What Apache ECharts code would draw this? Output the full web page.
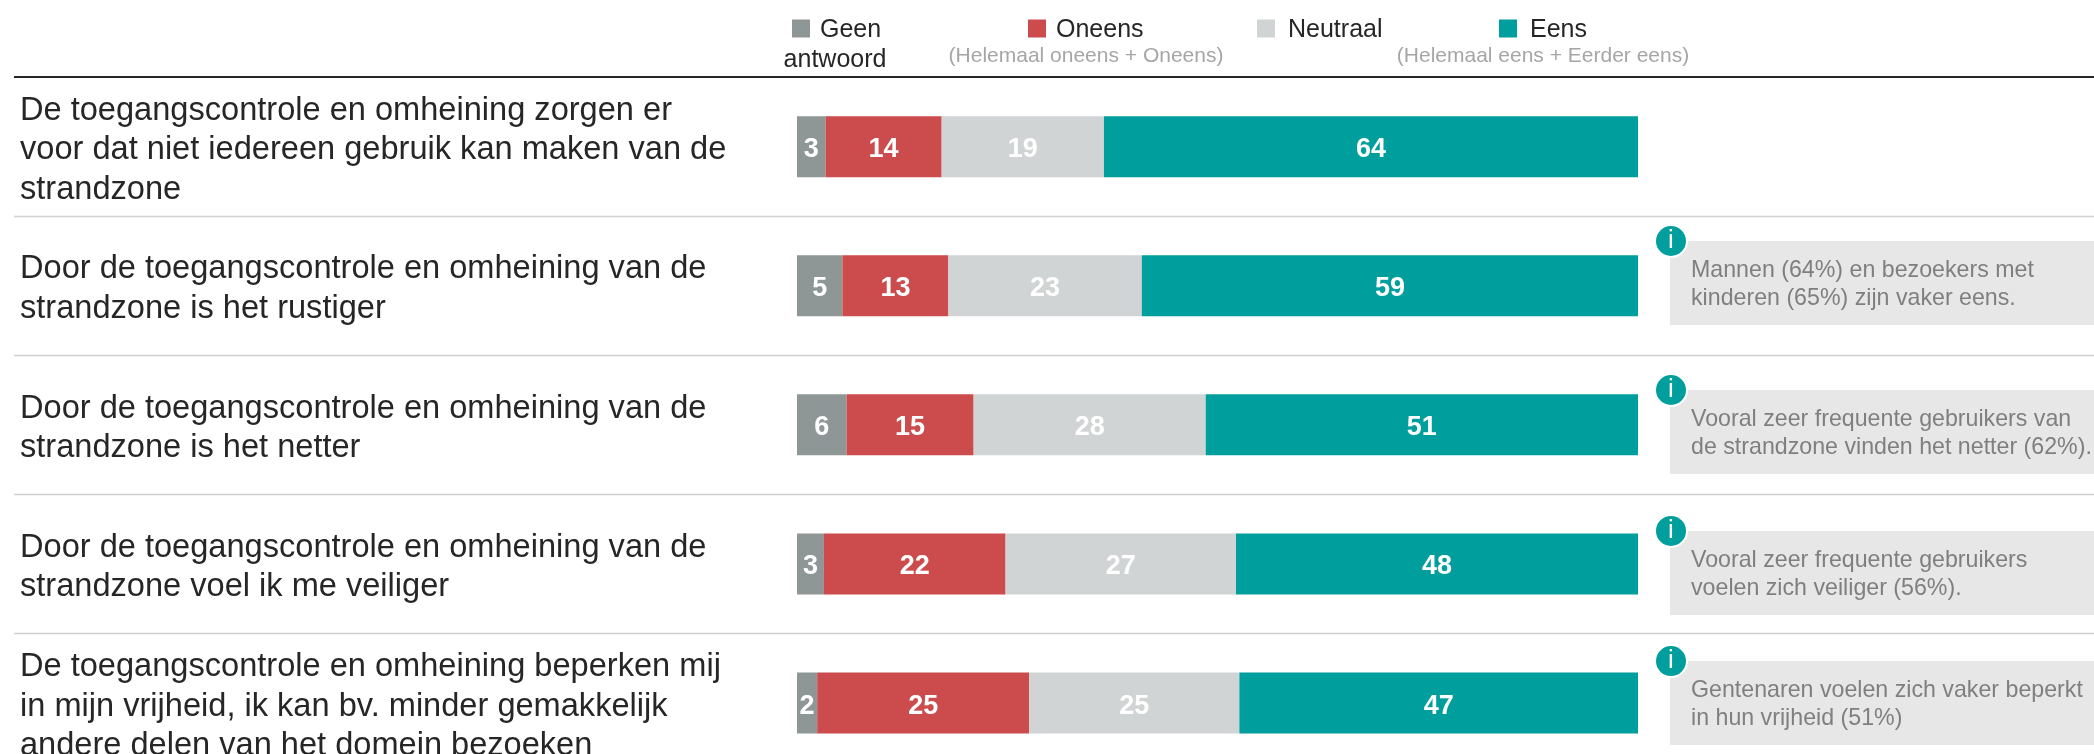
<!DOCTYPE html>
<html><head><meta charset="utf-8">
<style>html,body{margin:0;padding:0;background:#fff}#c{width:2094px;height:754px}</style>
<script src="https://cdn.jsdelivr.net/npm/echarts@6/dist/echarts.min.js"></script>
</head><body><div id="c"></div>
<script>
const categories = [
 "De toegangscontrole en omheining zorgen er\nvoor dat niet iedereen gebruik kan maken van de\nstrandzone",
 "Door de toegangscontrole en omheining van de\nstrandzone is het rustiger",
 "Door de toegangscontrole en omheining van de\nstrandzone is het netter",
 "Door de toegangscontrole en omheining van de\nstrandzone voel ik me veiliger",
 "De toegangscontrole en omheining beperken mij\nin mijn vrijheid, ik kan bv. minder gemakkelijk\nandere delen van het domein bezoeken"
];
const geenAntwoord = [3.4, 5.4, 5.9, 3.2, 2.4];
const oneens = [13.8, 12.6, 15.1, 21.6, 25.2];
const neutraal = [19.3, 23.0, 27.6, 27.4, 25.0];
const eens = [63.5, 59.0, 51.4, 47.8, 47.4];
const notes = [
 null,
 "Mannen (64%) en bezoekers met\nkinderen (65%) zijn vaker eens.",
 "Vooral zeer frequente gebruikers van\nde strandzone vinden het netter (62%).",
 "Vooral zeer frequente gebruikers\nvoelen zich veiliger (56%).",
 "Gentenaren voelen zich vaker beperkt\nin hun vrijheid (51%)"
];
const noteOffsets = [0, -44.75, -34.85, -33, -42];
const FONT = '"Liberation Sans", Arial, sans-serif';
const BAND = 139.1;
const mk = (name, data, color) => ({
  name, type: 'bar', stack: 'a', data, barWidth: 61,
  itemStyle: {color},
  label: {show: true, position: 'inside', offset: [0, 3], color: '#fff', fontFamily: FONT, fontWeight: 'bold', fontSize: 27,
    formatter: p => Math.round(p.value)}
});
const leg = (name, left, text, gap) => ({
  data: [name], left, top: 14, itemWidth: 18, itemHeight: 18, itemGap: 0, padding: 0,
  icon: 'rect', selectedMode: false,
  textStyle: {fontFamily: FONT, fontSize: 25, color: '#262626', padding: [0, 0, 0, gap],
    rich: {s: {fontSize: 1, lineHeight: 4}, t: {fontFamily: FONT, fontSize: 25, color: '#262626', lineHeight: 28}}},
  formatter: () => `{s| }\n{t|${text}}`
});
const chart = echarts.init(document.getElementById('c'));
chart.setOption({
  animation: false,
  backgroundColor: '#fff',
  legend: [
    leg('Geen antwoord', 792, 'Geen', 5),
    leg('Oneens', 1028, 'Oneens', 5),
    leg('Neutraal', 1257, 'Neutraal', 8),
    leg('Eens', 1499, 'Eens', 8)
  ],
  grid: {left: 797, top: 77.1, width: 841, height: BAND * 5, outerBoundsMode: 'none'},
  xAxis: {type: 'value', min: 0, max: 100, show: false},
  yAxis: {type: 'category', inverse: true, data: categories,
    axisLine: {show: false}, axisTick: {show: false},
    axisLabel: {align: 'left', margin: 777, verticalAlign: 'middle',
      formatter: v => '{s| }\n' + v.split('\n').map(l => `{t|${l}}`).join('\n'),
      rich: {s: {fontSize: 1, lineHeight: 7}, t: {fontFamily: FONT, fontSize: 32.6, lineHeight: 39.5, color: '#262626'}}}},
  series: [
    mk('Geen antwoord', geenAntwoord, '#8E9796'),
    mk('Oneens', oneens, '#CC4B4C'),
    mk('Neutraal', neutraal, '#D1D4D4'),
    mk('Eens', eens, '#009E9D')
  ]
});
const cy = i => chart.convertToPixel({yAxisIndex: 0}, i);
const g = [];
const hline = (y, color, w) => ({type: 'line', shape: {x1: 14, y1: y, x2: 2094, y2: y}, style: {stroke: color, lineWidth: w}});
g.push(hline(77, '#262626', 2));
for (let i = 1; i < categories.length; i++) g.push(hline(Math.floor((cy(i - 1) + cy(i)) / 2) + 0.5, '#D0D0D0', 1.5));
const txt = (x, y, text, size, color, align) => ({type: 'text', x, y, style: {text, fontFamily: FONT, fontSize: size, fill: color, align: align || 'left', verticalAlign: 'middle'}});
g.push(txt(835, 60, 'antwoord', 25, '#262626', 'center'));
g.push(txt(1086, 56, '(Helemaal oneens + Oneens)', 21, '#A6A6A6', 'center'));
g.push(txt(1543, 56, '(Helemaal eens + Eerder eens)', 21, '#A6A6A6', 'center'));
notes.forEach((n, i) => {
  if (!n) return;
  const top = cy(i) + noteOffsets[i];
  g.push({type: 'rect', shape: {x: 1670, y: top, width: 424, height: 84}, style: {fill: '#E7E7E7'}});
  g.push({type: 'text', x: 1691, y: top + 44, style: {text: n, fontFamily: FONT, fontSize: 23.2, lineHeight: 28, fill: '#7F7F7F', verticalAlign: 'middle'}});
  g.push({type: 'circle', shape: {cx: 1671, cy: top, r: 16}, style: {fill: '#009E9D', stroke: '#fff', lineWidth: 2}});
  g.push({type: 'text', x: 1671, y: top, style: {text: 'i', fontFamily: FONT, fontSize: 26, fill: '#fff', align: 'center', verticalAlign: 'middle'}});
});
chart.setOption({graphic: g});
</script></body></html>
